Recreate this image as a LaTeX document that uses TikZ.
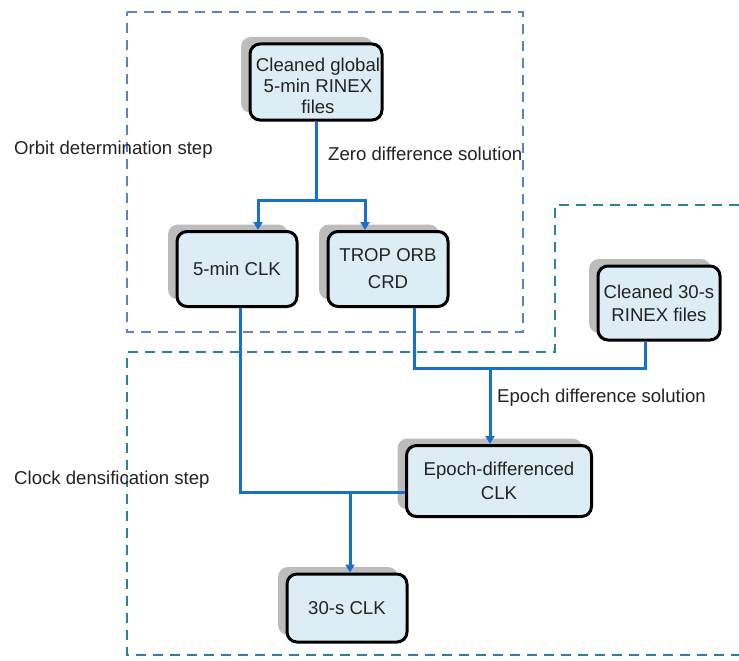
\documentclass[tikz,border=0pt]{standalone}
\usepackage{fontspec}
\setmainfont{Liberation Sans}
\usetikzlibrary{arrows.meta,calc,shadows}
\definecolor{boxfill}{RGB}{221,237,245}
\definecolor{shadowgray}{RGB}{188,188,188}
\definecolor{linkblue}{RGB}{22,112,204}
\definecolor{frameblue}{RGB}{86,132,196}
\definecolor{frameteal}{RGB}{44,130,150}
\definecolor{txt}{RGB}{35,35,35}
\begin{document}
\begin{tikzpicture}[x=1pt,y=-1pt,
  stepbox/.style={draw=black, line width=3pt, rounded corners=10pt, fill=boxfill,
    align=center, inner sep=0pt, text=txt, font=\fontsize{18.6}{21}\selectfont,
    general shadow={fill=shadowgray, shadow xshift=-9pt, shadow yshift=7pt}},
  boxtext/.style={align=center, inner sep=0pt, text=txt, font=\fontsize{18.6}{21}\selectfont},
  conn/.style={draw=linkblue, line width=3pt},
  arr/.style={-{Triangle[length=8pt,width=9pt]}},
  lbl/.style={text=txt, font=\fontsize{18.6}{21}\selectfont, inner sep=0pt, anchor=west},
  frameA/.style={draw=frameblue, line width=2.8pt, dash pattern=on 10pt off 7pt},
  frameB/.style={draw=frameteal, line width=2.8pt, dash pattern=on 10pt off 7pt}]
\useasboundingbox (0,0) rectangle (739,661);
\fill[white] (0,0) rectangle (739,661);

% frames
\draw[frameA] (127,12) -- (523,12) -- (523,332) -- (127,332) -- cycle;
\draw[frameB] (739,205) -- (555,205) -- (555,352) -- (127,352) -- (127,655) -- (739,655);

% boxes
\node[stepbox, minimum width=132pt, minimum height=76pt] (g) at (316,82) {};
\node[boxtext] (gt) at (318,86) {Cleaned global\\5-min RINEX\\files};
\node[stepbox, minimum width=120pt, minimum height=75pt] (c5) at (237,269) {5-min CLK};
\node[stepbox, minimum width=120pt, minimum height=75pt] (trop) at (388,269) {TROP ORB\\[6pt]CRD};
\node[stepbox, minimum width=122pt, minimum height=74pt] (c30) at (659,303) {Cleaned 30-s\\[2pt]RINEX files};
\node[stepbox, minimum width=185pt, minimum height=71pt] (epoch) at (499,481) {Epoch-differenced\\[3pt]CLK};
\node[stepbox, minimum width=120pt, minimum height=68pt] (c30s) at (347,608) {30-s CLK};

% labels
\node[lbl] (zl) at (328,154) {Zero difference solution};
\node[lbl] (el) at (497,398) {Epoch difference solution};
\node[lbl] (ol) at (14,150) {Orbit determination step};
\node[lbl] (cl) at (14,480) {Clock densification step};

% connectors
\coordinate (j1) at (316,200);
\draw[conn] (g.south) -- (j1);
\draw[conn,arr] (j1) -| ([xshift=21pt]c5.north);
\draw[conn,arr] (j1) -| ([xshift=-23pt]trop.north);

\coordinate (j2) at (645,368);
\draw[conn] ([xshift=26pt]trop.south) |- (j2) -- ([xshift=-14pt]c30.south);
\coordinate (j4) at (490,368);
\draw[conn,arr] (j4) -- (epoch.north -| j4);

\draw[conn] ([xshift=3pt]c5.south) |- ([yshift=-11pt]epoch.west);
\coordinate (j3) at (350,492);
\draw[conn,arr] (j3) -- (c30s.north -| j3);
\end{tikzpicture}
\end{document}
